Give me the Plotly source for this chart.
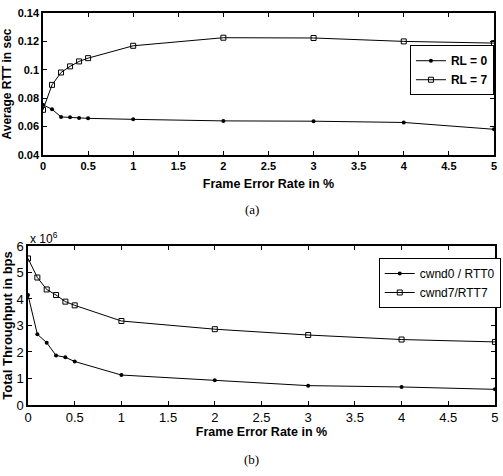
import plotly.graph_objects as go

fer = [0, 0.1, 0.2, 0.3, 0.4, 0.5, 1, 2, 3, 4, 5]
rtt_rl0 = [0.0753, 0.0722, 0.0668, 0.0665, 0.0661, 0.0658, 0.0651, 0.0640, 0.0638, 0.0629, 0.0581]
rtt_rl7 = [0.0718, 0.0894, 0.0981, 0.1024, 0.1059, 0.1082, 0.1169, 0.1226, 0.1224, 0.1200, 0.1188]
thr_cwnd0 = [4.15, 2.67, 2.35, 1.87, 1.80, 1.64, 1.13, 0.93, 0.73, 0.68, 0.59]
thr_cwnd7 = [5.53, 4.81, 4.36, 4.15, 3.90, 3.76, 3.17, 2.86, 2.64, 2.47, 2.38]
x_ticks = [0, 0.5, 1, 1.5, 2, 2.5, 3, 3.5, 4, 4.5, 5]
x_ticklabels = ["0", "0.5", "1", "1.5", "2", "2.5", "3", "3.5", "4", "4.5", "5"]

SANS = "Liberation Sans"
fig = go.Figure()

line = dict(color="black", width=1)
m_dot = dict(symbol="circle", size=4, color="black")
m_sq = dict(symbol="square-open", size=5, color="black", line=dict(width=1))
fig.add_trace(go.Scatter(x=fer, y=rtt_rl0, mode="lines+markers", name="<b>RL = 0</b>",
                         line=line, marker=m_dot, xaxis="x", yaxis="y", legend="legend"))
fig.add_trace(go.Scatter(x=fer, y=rtt_rl7, mode="lines+markers", name="<b>RL = 7</b>",
                         line=line, marker=m_sq, xaxis="x", yaxis="y", legend="legend"))
fig.add_trace(go.Scatter(x=fer, y=thr_cwnd0, mode="lines+markers", name="cwnd0 / RTT0",
                         line=line, marker=m_dot, xaxis="x2", yaxis="y2", legend="legend2"))
fig.add_trace(go.Scatter(x=fer, y=thr_cwnd7, mode="lines+markers", name="cwnd7/RTT7",
                         line=line, marker=m_sq, xaxis="x2", yaxis="y2", legend="legend2"))

axcommon = dict(showline=True, linecolor="black", linewidth=1.5, mirror="ticks", ticks="inside",
                ticklen=4, tickcolor="black", showgrid=False, zeroline=False, automargin=False)

fig.update_layout(
    width=503, height=476, margin=dict(l=0, r=0, t=0, b=0, autoexpand=False),
    paper_bgcolor="white", plot_bgcolor="white",
    font=dict(family=SANS, color="black", size=11),
    xaxis=dict(domain=[0.0855, 0.982], anchor="y", range=[0, 5], tickvals=x_ticks,
               ticktext=["<b>%s</b>" % t for t in x_ticklabels], tickfont=dict(size=11),
               title=dict(text="<b>Frame Error Rate in %</b>", font=dict(size=12.5), standoff=8), **axcommon),
    yaxis=dict(domain=[0.6744, 0.9727], anchor="x", range=[0.04, 0.14],
               tickvals=[0.04, 0.06, 0.08, 0.1, 0.12, 0.14],
               ticktext=["<b>0.04</b>", "<b>0.06</b>", "<b>0.08</b>", "<b>0.1</b>", "<b>0.12</b>", "<b>0.14</b>"],
               tickfont=dict(size=11),
               title=dict(text="<b>Average RTT in sec</b>", font=dict(size=12), standoff=3), **axcommon),
    xaxis2=dict(domain=[0.0557, 0.984], anchor="y2", range=[0, 5], tickvals=x_ticks,
                ticktext=x_ticklabels, tickfont=dict(size=13),
                title=dict(text="<b>Frame Error Rate in %</b>", font=dict(size=12.5), standoff=3), **axcommon),
    yaxis2=dict(domain=[0.1492, 0.4832], anchor="x2", range=[0, 6],
                tickvals=[0, 1, 2, 3, 4, 5, 6], ticktext=["0", "1", "2", "3", "4", "5", "6"],
                tickfont=dict(size=13),
                title=dict(text="<b>Total Throughput in bps</b>", font=dict(size=13), standoff=3), **axcommon),
    legend=dict(x=0.815, y=0.905, xanchor="left", yanchor="top", bgcolor="white",
                bordercolor="black", borderwidth=1, font=dict(size=12), tracegroupgap=0,
                itemwidth=30),
    legend2=dict(x=0.753, y=0.458, xanchor="left", yanchor="top", bgcolor="white",
                 bordercolor="black", borderwidth=1, font=dict(size=12), tracegroupgap=0,
                 itemwidth=30),
    annotations=[
        dict(text="(a)", x=0.5, y=1 - 209 / 476, xref="paper", yref="paper", showarrow=False,
             xanchor="center", yanchor="middle", font=dict(family="Liberation Serif", size=13)),
        dict(text="(b)", x=0.5, y=1 - 459 / 476, xref="paper", yref="paper", showarrow=False,
             xanchor="center", yanchor="middle", font=dict(family="Liberation Serif", size=13)),
        dict(text="x 10<sup>6</sup>", x=0.0557, y=1, xref="paper", yref="y2 domain", xanchor="left",
             yanchor="bottom", showarrow=False, font=dict(size=12), xshift=0, yshift=-2),
    ],
)

fig.write_html("out.html")
